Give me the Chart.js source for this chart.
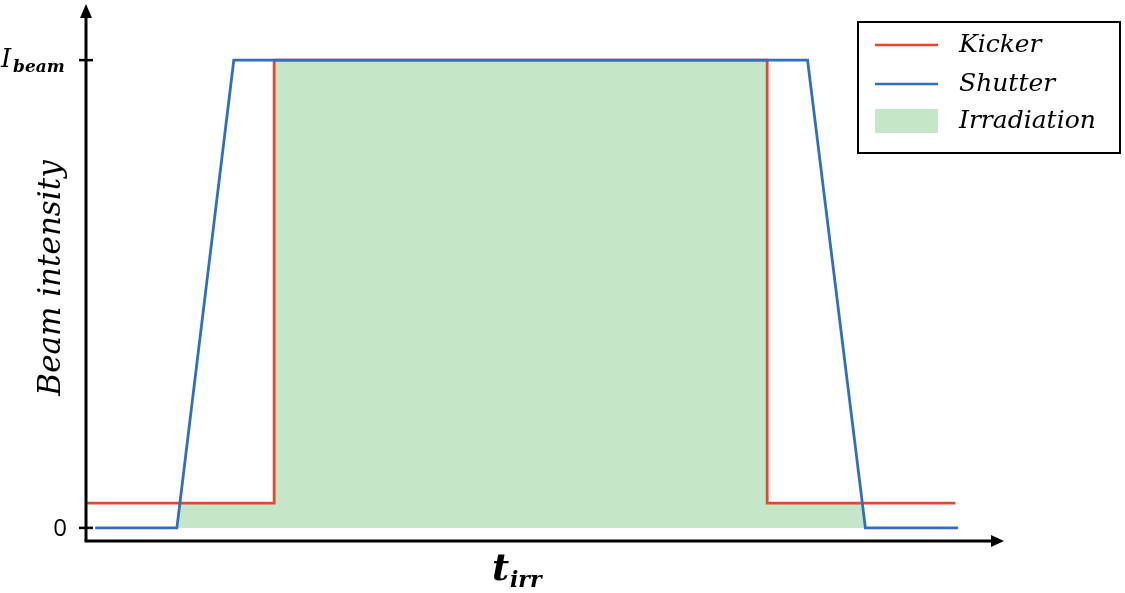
<!DOCTYPE html>
<html>
<head>
<meta charset="utf-8">
<script src="https://cdn.jsdelivr.net/npm/chart.js@4.4.0/dist/chart.umd.min.js"></script>
<style>
  html, body { margin: 0; padding: 0; background: #fff; }
</style>
</head>
<body>
<canvas id="beamChart" width="1125" height="593"></canvas>
<script>
// time in arbitrary units, intensity relative to I_beam
const kickerX = [0, 20.5, 20.5, 74.2, 74.2, 94.7];
const kickerY = [0.053, 0.053, 1, 1, 0.053, 0.053];
const shutterX = [1.0, 9.9, 16.1, 78.6, 84.9, 95.0];
const shutterY = [0, 0, 1, 1, 0, 0];
const irradX = [9.9, 10.2, 20.5, 20.5, 74.2, 74.2, 84.5, 84.9];
const irradY = [0, 0.053, 0.053, 1, 1, 0.053, 0.053, 0];
const yTicks = [0, 1];
const yTickLabels = [['0', ''], ['I', 'beam']];
const seriesNames = ['Kicker', 'Shutter', 'Irradiation'];

const RED = 'rgb(230,72,44)';
const BLUE = 'rgb(48,110,190)';
const GREEN = 'rgb(197,230,200)';

function toPoints(xs, ys) {
  return xs.map((x, i) => ({x: x, y: ys[i]}));
}

// draws the arrow axes, ticks, labels and the boxed legend
const decorations = {
  id: 'decorations',
  afterDatasetsDraw(chart) {
    const ctx = chart.ctx;
    const a = chart.chartArea;
    const ys = chart.scales.y;
    ctx.save();
    ctx.strokeStyle = '#000';
    ctx.fillStyle = '#000';
    ctx.lineWidth = 3;
    // y axis
    ctx.beginPath();
    ctx.moveTo(a.left, a.bottom);
    ctx.lineTo(a.left, a.top + 10);
    ctx.stroke();
    ctx.beginPath();
    ctx.moveTo(a.left, a.top);
    ctx.lineTo(a.left - 6, a.top + 14);
    ctx.lineTo(a.left + 6, a.top + 14);
    ctx.closePath();
    ctx.fill();
    // x axis
    ctx.beginPath();
    ctx.moveTo(a.left - 1.5, a.bottom);
    ctx.lineTo(a.right - 10, a.bottom);
    ctx.stroke();
    ctx.beginPath();
    ctx.moveTo(a.right, a.bottom);
    ctx.lineTo(a.right - 13, a.bottom - 6);
    ctx.lineTo(a.right - 13, a.bottom + 6);
    ctx.closePath();
    ctx.fill();

    // y ticks and labels
    ctx.lineWidth = 2.5;
    yTicks.forEach((v, i) => {
      const py = ys.getPixelForValue(v);
      ctx.beginPath();
      ctx.moveTo(a.left - 7, py);
      ctx.lineTo(a.left + 7, py);
      ctx.stroke();
      const lab = yTickLabels[i];
      if (lab[1] === '') {
        ctx.textBaseline = 'middle';
        ctx.font = '24px "Open Sans", sans-serif';
        ctx.textAlign = 'right';
        ctx.fillText(lab[0], a.left - 19, py + 1);
      } else {
        ctx.textAlign = 'left';
        ctx.textBaseline = 'alphabetic';
        ctx.font = 'italic 26px "DejaVu Serif", serif';
        ctx.fillText(lab[0], 1, py + 7);
        ctx.font = 'italic bold 17px "DejaVu Serif", serif';
        ctx.fillText(lab[1], 13, py + 12);
      }
    });

    // x axis title t_irr
    ctx.textAlign = 'left';
    ctx.textBaseline = 'alphabetic';
    ctx.font = 'italic bold 37px "DejaVu Serif", serif';
    ctx.fillText('t', 492, 580);
    ctx.font = 'italic bold 22px "DejaVu Serif", serif';
    ctx.fillText('irr', 510, 587);

    // y axis title
    ctx.save();
    ctx.translate(52, 278);
    ctx.rotate(-Math.PI / 2);
    ctx.textAlign = 'center';
    ctx.textBaseline = 'middle';
    ctx.font = 'italic 31px "DejaVu Serif", serif';
    ctx.fillText('Beam intensity', 0, 0);
    ctx.restore();

    // legend
    ctx.lineWidth = 2;
    ctx.strokeStyle = '#000';
    ctx.fillStyle = '#fff';
    ctx.fillRect(858, 22, 262, 131);
    ctx.strokeRect(858, 22, 262, 131);
    const rowsY = [45, 84, 121];
    chart.data.datasets.forEach((ds, i) => {
      const y = rowsY[i];
      if (ds.fill) {
        ctx.fillStyle = ds.backgroundColor;
        ctx.fillRect(875, y - 12, 63, 24);
      } else {
        ctx.strokeStyle = ds.borderColor;
        ctx.lineWidth = 2.5;
        ctx.beginPath();
        ctx.moveTo(875, y);
        ctx.lineTo(938, y);
        ctx.stroke();
      }
      ctx.fillStyle = '#000';
      ctx.textAlign = 'left';
      ctx.textBaseline = 'middle';
      ctx.font = 'italic 25px "DejaVu Serif", serif';
      ctx.fillText(ds.label, 959, y);
    });
    ctx.restore();
  }
};

const ctx = document.getElementById('beamChart').getContext('2d');
const chart = new Chart(ctx, {
  type: 'line',
  data: {
    datasets: [{
      label: seriesNames[0],
      data: toPoints(kickerX, kickerY),
      borderColor: RED,
      borderWidth: 2.8,
      pointRadius: 0,
      fill: false,
      order: 1
    }, {
      label: seriesNames[1],
      data: toPoints(shutterX, shutterY),
      borderColor: BLUE,
      borderWidth: 2.8,
      pointRadius: 0,
      fill: false,
      order: 0
    }, {
      label: seriesNames[2],
      data: toPoints(irradX, irradY),
      backgroundColor: GREEN,
      borderWidth: 0,
      borderColor: 'rgba(0,0,0,0)',
      pointRadius: 0,
      fill: 'origin',
      order: 2
    }]
  },
  options: {
    responsive: false,
    animation: false,
    layout: {padding: {left: 86, right: 121, top: 4, bottom: 52}},
    elements: {line: {tension: 0}},
    scales: {
      x: {type: 'linear', min: 0, max: 100, display: false},
      y: {type: 'linear', min: -0.028, max: 1.12, display: false}
    },
    plugins: {legend: {display: false}, tooltip: {enabled: false}}
  },
  plugins: [decorations]
});
</script>
</body>
</html>
